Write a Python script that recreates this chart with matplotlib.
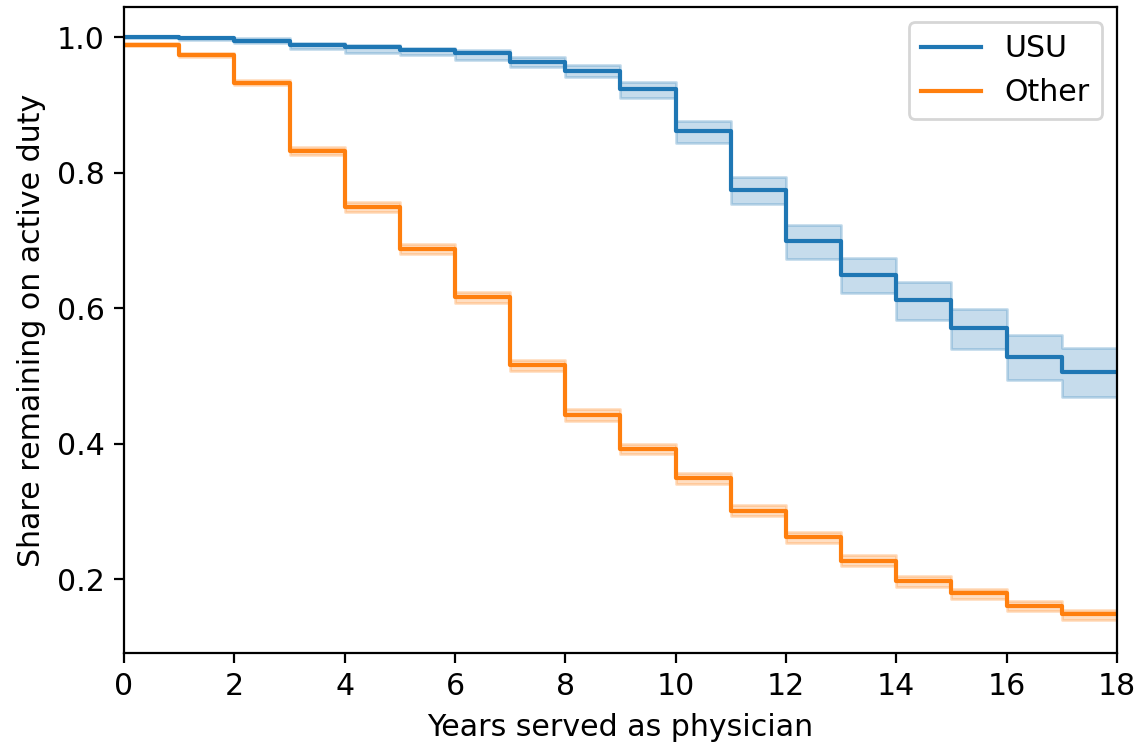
import numpy as np
import matplotlib
matplotlib.use("Agg")
import matplotlib.pyplot as plt

# ── DATA ──────────────────────────────────────────────────
years = list(range(0, 19))  # interval starts 0..17, plus the end point 18

usu       = [1.000, 0.998, 0.995, 0.989, 0.985, 0.981, 0.976, 0.964, 0.950,
             0.923, 0.862, 0.775, 0.699, 0.649, 0.612, 0.570, 0.528, 0.506]
usu_lo    = [0.998, 0.996, 0.992, 0.983, 0.977, 0.973, 0.966, 0.956, 0.941,
             0.910, 0.843, 0.753, 0.673, 0.622, 0.583, 0.540, 0.494, 0.469]
usu_hi    = [1.000, 0.999, 0.998, 0.992, 0.988, 0.984, 0.981, 0.971, 0.959,
             0.934, 0.876, 0.794, 0.723, 0.674, 0.638, 0.599, 0.560, 0.541]

other     = [0.989, 0.973, 0.933, 0.832, 0.749, 0.687, 0.616, 0.516, 0.442,
             0.392, 0.349, 0.301, 0.262, 0.227, 0.197, 0.179, 0.161, 0.148]
other_lo  = [0.987, 0.970, 0.929, 0.826, 0.742, 0.680, 0.607, 0.507, 0.434,
             0.384, 0.341, 0.293, 0.254, 0.219, 0.189, 0.171, 0.153, 0.140]
other_hi  = [0.991, 0.976, 0.937, 0.838, 0.756, 0.695, 0.624, 0.524, 0.451,
             0.400, 0.357, 0.309, 0.270, 0.235, 0.205, 0.186, 0.168, 0.155]

labels = ["USU", "Other"]


def extend(vals):
    # repeat the last value so the step runs out to year 18
    return np.array(vals + vals[-1:])


plt.rcParams["font.size"] = 10.8

fig = plt.figure(figsize=(5.69, 3.73), dpi=200)
ax = fig.add_axes([0.109, 0.1247, 0.8725, 0.8655])

series = [(usu, usu_lo, usu_hi, "C0"), (other, other_lo, other_hi, "C1")]
for (vals, lo, hi, col), lab in zip(series, labels):
    ax.fill_between(years, extend(lo), extend(hi), step="post",
                    color=col, alpha=0.25, linewidth=1.0)
    ax.step(years, extend(vals), where="post", color=col,
            linewidth=1.5, label=lab)

ax.set_xlim(0, 18)
ax.set_ylim(0.091, 1.044)
ax.set_xticks(range(0, 19, 2))
ax.set_yticks([0.2, 0.4, 0.6, 0.8, 1.0])
ax.set_xlabel("Years served as physician")
ax.set_ylabel("Share remaining on active duty")
ax.legend(loc="upper right")

fig.savefig("out.png", dpi=200)
